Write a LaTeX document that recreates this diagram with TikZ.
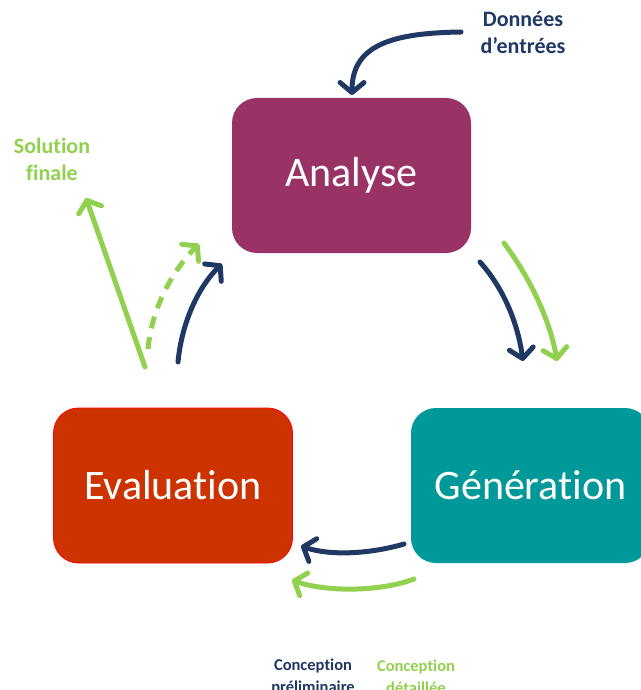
\documentclass[tikz,border=0pt]{standalone}
\usepackage{fontspec}
\setmainfont{Carlito}[Ligatures=NoCommon]
\usetikzlibrary{arrows.meta}
\definecolor{navy}{HTML}{1F3864}
\definecolor{lgreen}{HTML}{92D050}
\definecolor{plum}{HTML}{993366}
\definecolor{rust}{HTML}{CC3300}
\definecolor{teal2}{HTML}{009999}
\tikzset{
  box/.style={rounded corners=25pt, minimum width=239pt, minimum height=155pt, inner sep=0pt, text=white, font=\fontsize{42}{44}\selectfont},
  arr/.style={line width=5pt, line cap=round, line join=round, -{Straight Barb[length=10pt,width=24pt,line cap=round,line join=round]}},
  lbl/.style={font=\bfseries\fontsize{22}{27}\selectfont, align=center},
  slbl/.style={font=\bfseries\fontsize{16.5}{22}\selectfont, align=center},
}
\begin{document}
\begin{tikzpicture}[x=1pt,y=-1pt]
\useasboundingbox (0,0) rectangle (640,690);
\node[box, fill=plum] (ana) at (351.5,175.5) {Analyse};
\node[box, fill=rust, draw=red, line width=0.8pt] (eva) at (173,485.5) {Evaluation};
\node[box, fill=teal2] (gen) at (530.5,485.5) {Génération};
\node[lbl, text=navy] (don) at (523,32) {Données\\d’entrées};
\node[lbl, text=lgreen] (sol) at (52,159) {Solution\\finale};
\node[slbl, text=navy] (cp) at (313,677) {Conception\\préliminaire};
\node[slbl, text=lgreen] (cd) at (416,677) {Conception\\détaillée};
% endpoints
\coordinate (d1) at (461,32);
\coordinate (d2) at (352,95);
\coordinate (s1) at (145,367);
\coordinate (s2) at (86,198);
\coordinate (g1) at (148,349);
\coordinate (g2) at (199,244);
\coordinate (n1) at (178,362);
\coordinate (n2) at (222,264);
\coordinate (r1) at (480,262);
\coordinate (r2) at (523,361);
\coordinate (q1) at (504,243);
\coordinate (q2) at (557,361);
\coordinate (b1) at (404,544);
\coordinate (b2) at (301,546);
\coordinate (c1) at (414,579);
\coordinate (c2) at (292,580);
\draw[arr, navy] (d1) .. controls (392,33) and (352,45) .. (d2);
\draw[arr, lgreen] (s1) -- (s2);
\draw[arr, lgreen, dash pattern=on 12pt off 9pt, line cap=butt] (g1) .. controls (152,305) and (175,268) .. (g2);
\draw[arr, navy] (n1) .. controls (182,320) and (200,285) .. (n2);
\draw[arr, navy] (r1) .. controls (505,290) and (518,325) .. (r2);
\draw[arr, lgreen] (q1) .. controls (530,278) and (550,320) .. (q2);
\draw[arr, navy] (b1) .. controls (370,554) and (330,556) .. (b2);
\draw[arr, lgreen] (c1) .. controls (380,592) and (325,592) .. (c2);
\end{tikzpicture}
\end{document}
